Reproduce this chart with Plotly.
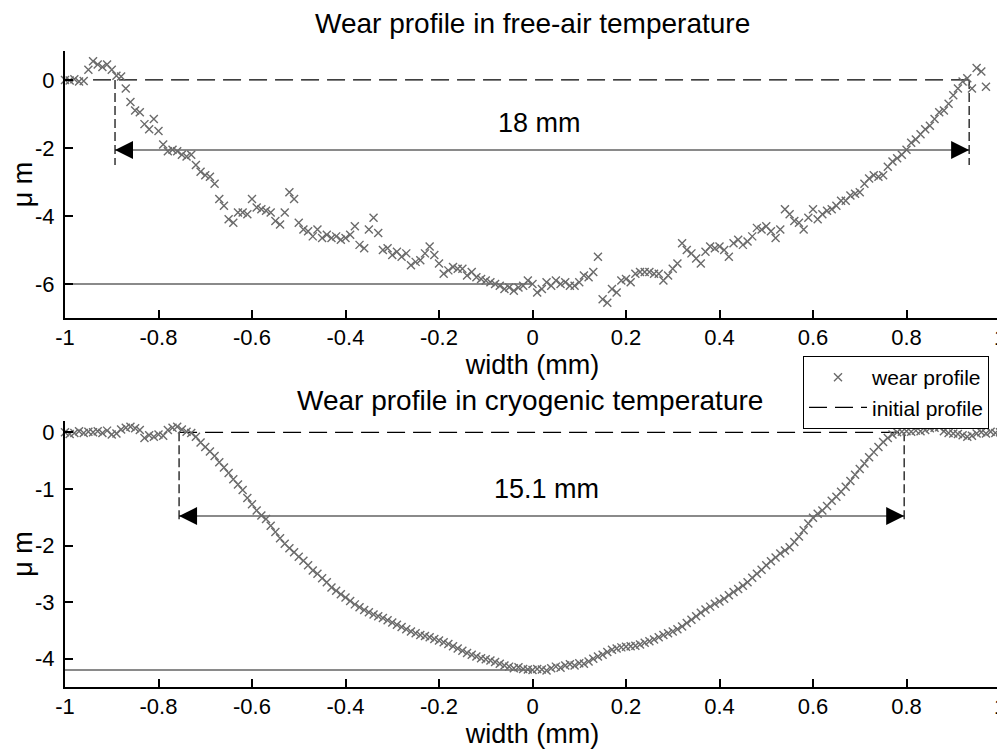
import plotly.graph_objects as go

# ---------------- data ----------------
top_x = [-1.00, -0.99, -0.98, -0.97, -0.96, -0.95, -0.94, -0.93, -0.92, -0.91,
         -0.90, -0.89, -0.88, -0.87, -0.86, -0.85, -0.84, -0.83, -0.82, -0.81,
         -0.80, -0.79, -0.78, -0.77, -0.76, -0.75, -0.74, -0.73, -0.72, -0.71,
         -0.70, -0.69, -0.68, -0.67, -0.66, -0.65, -0.64, -0.63, -0.62, -0.61,
         -0.60, -0.59, -0.58, -0.57, -0.56, -0.55, -0.54, -0.53, -0.52, -0.51,
         -0.50, -0.49, -0.48, -0.47, -0.46, -0.45, -0.44, -0.43, -0.42, -0.41,
         -0.40, -0.39, -0.38, -0.37, -0.36, -0.35, -0.34, -0.33, -0.32, -0.31,
         -0.30, -0.29, -0.28, -0.27, -0.26, -0.25, -0.24, -0.23, -0.22, -0.21,
         -0.20, -0.19, -0.18, -0.17, -0.16, -0.15, -0.14, -0.13, -0.12, -0.11,
         -0.10, -0.09, -0.08, -0.07, -0.06, -0.05, -0.04, -0.03, -0.02, -0.01,
         0.00, 0.01, 0.02, 0.03, 0.04, 0.05, 0.06, 0.07, 0.08, 0.09,
         0.10, 0.11, 0.12, 0.13, 0.14, 0.15, 0.16, 0.17, 0.18, 0.19,
         0.20, 0.21, 0.22, 0.23, 0.24, 0.25, 0.26, 0.27, 0.28, 0.29,
         0.30, 0.31, 0.32, 0.33, 0.34, 0.35, 0.36, 0.37, 0.38, 0.39,
         0.40, 0.41, 0.42, 0.43, 0.44, 0.45, 0.46, 0.47, 0.48, 0.49,
         0.50, 0.51, 0.52, 0.53, 0.54, 0.55, 0.56, 0.57, 0.58, 0.59,
         0.60, 0.61, 0.62, 0.63, 0.64, 0.65, 0.66, 0.67, 0.68, 0.69,
         0.70, 0.71, 0.72, 0.73, 0.74, 0.75, 0.76, 0.77, 0.78, 0.79,
         0.80, 0.81, 0.82, 0.83, 0.84, 0.85, 0.86, 0.87, 0.88, 0.89,
         0.90, 0.91, 0.92, 0.93, 0.94, 0.95, 0.96, 0.97]
top_y = [0.00, -0.02, 0.02, -0.05, -0.03, 0.30, 0.55, 0.45, 0.38, 0.45,
         0.30, 0.12, 0.10, -0.25, -0.65, -0.90, -0.95, -1.30, -1.45, -1.15,
         -1.50, -1.90, -2.10, -2.05, -2.10, -2.20, -2.25, -2.20, -2.50, -2.70,
         -2.80, -2.85, -3.05, -3.50, -3.70, -4.10, -4.20, -3.90, -3.90, -3.95,
         -3.50, -3.75, -3.80, -3.85, -3.90, -4.15, -4.25, -3.90, -3.30, -3.50,
         -4.20, -4.40, -4.45, -4.60, -4.40, -4.65, -4.55, -4.65, -4.60, -4.70,
         -4.65, -4.55, -4.30, -4.85, -4.95, -4.40, -4.05, -4.50, -5.00, -4.95,
         -5.15, -5.05, -5.20, -5.10, -5.45, -5.35, -5.30, -5.10, -4.90, -5.15,
         -5.40, -5.70, -5.60, -5.50, -5.55, -5.55, -5.75, -5.65, -5.80, -5.85,
         -5.90, -5.95, -6.00, -6.05, -6.15, -6.10, -6.20, -6.10, -6.05, -5.90,
         -6.00, -6.25, -6.15, -5.95, -6.05, -5.90, -6.00, -5.95, -6.05, -6.05,
         -5.95, -5.75, -5.80, -5.65, -5.20, -6.45, -6.55, -6.15, -6.25, -5.90,
         -5.85, -5.95, -5.70, -5.65, -5.65, -5.65, -5.70, -5.70, -5.90, -5.75,
         -5.55, -5.40, -4.80, -5.00, -5.10, -5.25, -5.40, -5.05, -4.90, -4.95,
         -4.90, -5.00, -5.20, -4.80, -4.70, -4.85, -4.75, -4.60, -4.35, -4.40,
         -4.30, -4.45, -4.65, -4.40, -3.80, -3.95, -4.15, -4.20, -4.40, -4.05,
         -3.80, -4.10, -3.95, -3.85, -3.80, -3.70, -3.55, -3.55, -3.40, -3.35,
         -3.30, -3.05, -2.90, -2.80, -2.85, -2.80, -2.55, -2.40, -2.30, -2.20,
         -2.05, -1.85, -1.75, -1.60, -1.45, -1.35, -1.15, -0.95, -0.90, -0.70,
         -0.45, -0.25, -0.05, 0.05, -0.25, 0.35, 0.25, -0.20]

bot_x = [-1.00, -0.99, -0.98, -0.97, -0.96, -0.95, -0.94, -0.93, -0.92, -0.91,
         -0.90, -0.89, -0.88, -0.87, -0.86, -0.85, -0.84, -0.83, -0.82, -0.81,
         -0.80, -0.79, -0.78, -0.77, -0.76, -0.75, -0.74, -0.73, -0.72, -0.71,
         -0.70, -0.69, -0.68, -0.67, -0.66, -0.65, -0.64, -0.63, -0.62, -0.61,
         -0.60, -0.59, -0.58, -0.57, -0.56, -0.55, -0.54, -0.53, -0.52, -0.51,
         -0.50, -0.49, -0.48, -0.47, -0.46, -0.45, -0.44, -0.43, -0.42, -0.41,
         -0.40, -0.39, -0.38, -0.37, -0.36, -0.35, -0.34, -0.33, -0.32, -0.31,
         -0.30, -0.29, -0.28, -0.27, -0.26, -0.25, -0.24, -0.23, -0.22, -0.21,
         -0.20, -0.19, -0.18, -0.17, -0.16, -0.15, -0.14, -0.13, -0.12, -0.11,
         -0.10, -0.09, -0.08, -0.07, -0.06, -0.05, -0.04, -0.03, -0.02, -0.01,
         0.00, 0.01, 0.02, 0.03, 0.04, 0.05, 0.06, 0.07, 0.08, 0.09,
         0.10, 0.11, 0.12, 0.13, 0.14, 0.15, 0.16, 0.17, 0.18, 0.19,
         0.20, 0.21, 0.22, 0.23, 0.24, 0.25, 0.26, 0.27, 0.28, 0.29,
         0.30, 0.31, 0.32, 0.33, 0.34, 0.35, 0.36, 0.37, 0.38, 0.39,
         0.40, 0.41, 0.42, 0.43, 0.44, 0.45, 0.46, 0.47, 0.48, 0.49,
         0.50, 0.51, 0.52, 0.53, 0.54, 0.55, 0.56, 0.57, 0.58, 0.59,
         0.60, 0.61, 0.62, 0.63, 0.64, 0.65, 0.66, 0.67, 0.68, 0.69,
         0.70, 0.71, 0.72, 0.73, 0.74, 0.75, 0.76, 0.77, 0.78, 0.79,
         0.80, 0.81, 0.82, 0.83, 0.84, 0.85, 0.86, 0.87, 0.88, 0.89,
         0.90, 0.91, 0.92, 0.93, 0.94, 0.95, 0.96, 0.97, 0.98, 0.99, 1.00]
bot_y = [0.00, -0.03, -0.01, 0.02, -0.01, 0.01, 0.00, 0.02, -0.01, 0.03,
         -0.04, -0.02, 0.05, 0.08, 0.10, 0.07, 0.04, -0.10, -0.05, -0.08,
         -0.04, -0.06, 0.04, 0.08, 0.10, 0.05, 0.01, -0.01, -0.08, -0.18,
         -0.26, -0.34, -0.42, -0.53, -0.62, -0.72, -0.83, -0.92, -1.02, -1.16,
         -1.27, -1.38, -1.47, -1.53, -1.65, -1.76, -1.87, -1.97, -2.05, -2.12,
         -2.20, -2.27, -2.35, -2.44, -2.50, -2.58, -2.65, -2.74, -2.80, -2.86,
         -2.92, -2.98, -3.04, -3.09, -3.14, -3.18, -3.22, -3.25, -3.28, -3.32,
         -3.36, -3.40, -3.44, -3.48, -3.52, -3.55, -3.58, -3.60, -3.62, -3.65,
         -3.68, -3.71, -3.74, -3.78, -3.82, -3.86, -3.90, -3.93, -3.96, -3.99,
         -4.01, -4.03, -4.06, -4.09, -4.12, -4.14, -4.17, -4.15, -4.18, -4.19,
         -4.20, -4.18, -4.19, -4.21, -4.17, -4.14, -4.16, -4.12, -4.10, -4.12,
         -4.08, -4.09, -4.05, -4.00, -3.96, -3.93, -3.88, -3.84, -3.82, -3.80,
         -3.79, -3.78, -3.77, -3.75, -3.72, -3.69, -3.66, -3.62, -3.58, -3.55,
         -3.52, -3.48, -3.43, -3.37, -3.31, -3.25, -3.19, -3.13, -3.08, -3.03,
         -2.99, -2.94, -2.88, -2.82, -2.77, -2.71, -2.65, -2.57, -2.50, -2.43,
         -2.35, -2.28, -2.21, -2.14, -2.09, -2.03, -1.94, -1.84, -1.73, -1.61,
         -1.51, -1.44, -1.38, -1.30, -1.21, -1.14, -1.05, -0.96, -0.86, -0.75,
         -0.65, -0.55, -0.44, -0.35, -0.26, -0.17, -0.10, -0.04, 0.00, 0.01,
         0.02, 0.01, 0.03, 0.02, 0.04, 0.07, 0.08, 0.09, 0.02, -0.01,
         -0.02, -0.03, -0.05, -0.08, -0.06, -0.02, 0.00, -0.02, 0.01, -0.01, 0.00]

# wear scar edges, measuring-arrow height, depth lines, initial-profile extent
top_edges = [-0.893, 0.934]
top_arrow_y = -2.06
top_vline_bottom = -2.5
top_depth = -6.0
top_initial = [-0.94, 0.934]
top_span_label = "18 mm"
top_label_pos = [0.014, -1.26]

bot_edges = [-0.756, 0.795]
bot_arrow_y = -1.48
bot_vline_bottom = -1.6
bot_depth = -4.2
bot_initial = [-0.756, 0.795]
bot_span_label = "15.1 mm"
bot_label_pos = [0.031, -1.0]

x_ticks = [-1, -0.8, -0.6, -0.4, -0.2, 0, 0.2, 0.4, 0.6, 0.8, 1]
x_ticktext = ["-1", "-0.8", "-0.6", "-0.4", "-0.2", "0", "0.2", "0.4", "0.6", "0.8", "1"]
top_yticks = [-6, -4, -2, 0]
top_yticktext = ["-6", "-4", "-2", "0"]
bot_yticks = [-4, -3, -2, -1, 0]
bot_yticktext = ["-4", "-3", "-2", "-1", "0"]

FONT = "Liberation Sans, Arial, sans-serif"
MARK_COLOR = "#6a6a6a"

# the page body has an 8px margin: size the figure so it fits the 1005x751 window
OFF = 8
W, H = 1005 - OFF, 751 - OFF


def fx(px):
    return (px - OFF) / W


def fy(py):
    return 1 - (py - OFF) / H


fig = go.Figure()


def add_panel(fig, xs, ys, edges, arrow_y, vbot, depth, initial, xa, ya, legend):
    fig.add_trace(go.Scatter(x=[-1, 0], y=[depth, depth], mode="lines",
                             line=dict(color="#8a8a8a", width=2),
                             showlegend=False, hoverinfo="skip", xaxis=xa, yaxis=ya))
    fig.add_trace(go.Scatter(x=edges, y=[arrow_y, arrow_y], mode="lines",
                             line=dict(color="#8a8a8a", width=2),
                             showlegend=False, hoverinfo="skip", xaxis=xa, yaxis=ya))
    for e in edges:
        fig.add_trace(go.Scatter(x=[e, e], y=[0, vbot], mode="lines",
                                 line=dict(color="black", width=1.2, dash="9px,4px"),
                                 showlegend=False, hoverinfo="skip", xaxis=xa, yaxis=ya))
    fig.add_trace(go.Scatter(x=initial, y=[0, 0], mode="lines", name="initial profile",
                             line=dict(color="black", width=1.2, dash="18px,8px"),
                             showlegend=False, hoverinfo="skip", xaxis=xa, yaxis=ya))
    fig.add_trace(go.Scatter(x=xs, y=ys, mode="markers", name="wear profile",
                             marker=dict(symbol="x-thin-open", size=8,
                                         color=MARK_COLOR,
                                         line=dict(color=MARK_COLOR, width=1.4)),
                             cliponaxis=False, showlegend=legend, xaxis=xa, yaxis=ya,
                             legendrank=1))
    if legend:
        fig.add_trace(go.Scatter(x=[None], y=[None], mode="lines", name="initial profile",
                                 line=dict(color="black", width=1.2, dash="18px,8px"),
                                 showlegend=True, xaxis=xa, yaxis=ya, legendrank=2))


add_panel(fig, top_x, top_y, top_edges, top_arrow_y, top_vline_bottom, top_depth,
          top_initial, "x", "y", True)
add_panel(fig, bot_x, bot_y, bot_edges, bot_arrow_y, bot_vline_bottom, bot_depth,
          bot_initial, "x2", "y2", False)

annotations = []


def arrowheads(edges, y, xref, yref):
    out = []
    for tip, back in [(edges[0], edges[0] + 0.02), (edges[1], edges[1] - 0.02)]:
        out.append(dict(x=tip, y=y, ax=back, ay=y, xref=xref, yref=yref,
                        axref=xref, ayref=yref, showarrow=True, arrowhead=2,
                        arrowsize=1.8, arrowwidth=2, arrowcolor="black", text=""))
    return out


annotations += arrowheads(top_edges, top_arrow_y, "x", "y")
annotations += arrowheads(bot_edges, bot_arrow_y, "x2", "y2")
annotations.append(dict(x=top_label_pos[0], y=top_label_pos[1], xref="x", yref="y",
                        text=top_span_label, showarrow=False,
                        font=dict(family=FONT, size=27, color="black")))
annotations.append(dict(x=bot_label_pos[0], y=bot_label_pos[1], xref="x2", yref="y2",
                        text=bot_span_label, showarrow=False,
                        font=dict(family=FONT, size=27, color="black")))
annotations.append(dict(x=fx(532), y=fy(23), xref="paper", yref="paper",
                        xanchor="center", yanchor="middle",
                        text="Wear profile in free-air temperature", showarrow=False,
                        font=dict(family=FONT, size=28, color="black")))
annotations.append(dict(x=fx(530), y=fy(400), xref="paper", yref="paper",
                        xanchor="center", yanchor="middle",
                        text="Wear profile in cryogenic temperature", showarrow=False,
                        font=dict(family=FONT, size=28, color="black")))

axis_common = dict(showline=True, linecolor="black", linewidth=2, mirror=False,
                   ticks="inside", ticklen=8, tickwidth=2, tickcolor="black",
                   showgrid=False, zeroline=False, automargin=False,
                   ticklabeloverflow="allow",
                   tickfont=dict(family=FONT, size=22, color="black"))

fig.update_layout(
    width=W, height=H,
    margin=dict(l=0, r=0, t=0, b=0),
    paper_bgcolor="white", plot_bgcolor="white",
    font=dict(family=FONT, color="black"),
    annotations=annotations,
    showlegend=True,
    legend=dict(x=fx(803), y=fy(356), xanchor="left", yanchor="top",
                bordercolor="black", borderwidth=1, bgcolor="white",
                font=dict(family=FONT, size=21, color="black"),
                tracegroupgap=0, itemwidth=58),
    xaxis=dict(domain=[fx(65), fx(1000)], range=[-1, 1], anchor="y",
               tickvals=x_ticks, ticktext=x_ticktext, ticklabelstandoff=-1,
               title=dict(text="width (mm)", standoff=0,
                          font=dict(family=FONT, size=27, color="black")),
               **axis_common),
    yaxis=dict(domain=[fy(318), fy(51)], range=[-7, 0.85], anchor="x",
               tickvals=top_yticks, ticktext=top_yticktext, ticklabelstandoff=4,
               title=dict(text="\u03bc m", standoff=10,
                          font=dict(family=FONT, size=27, color="black")),
               **axis_common),
    xaxis2=dict(domain=[fx(65), fx(1000)], range=[-1, 1], anchor="y2",
                tickvals=x_ticks, ticktext=x_ticktext, ticklabelstandoff=-1,
                title=dict(text="width (mm)", standoff=0,
                           font=dict(family=FONT, size=27, color="black")),
                **axis_common),
    yaxis2=dict(domain=[fy(687), fy(421)], range=[-4.5, 0.2], anchor="x2",
                tickvals=bot_yticks, ticktext=bot_yticktext, ticklabelstandoff=4,
                title=dict(text="\u03bc m", standoff=10,
                           font=dict(family=FONT, size=27, color="black")),
                **axis_common),
)

fig.write_html("out.html")
